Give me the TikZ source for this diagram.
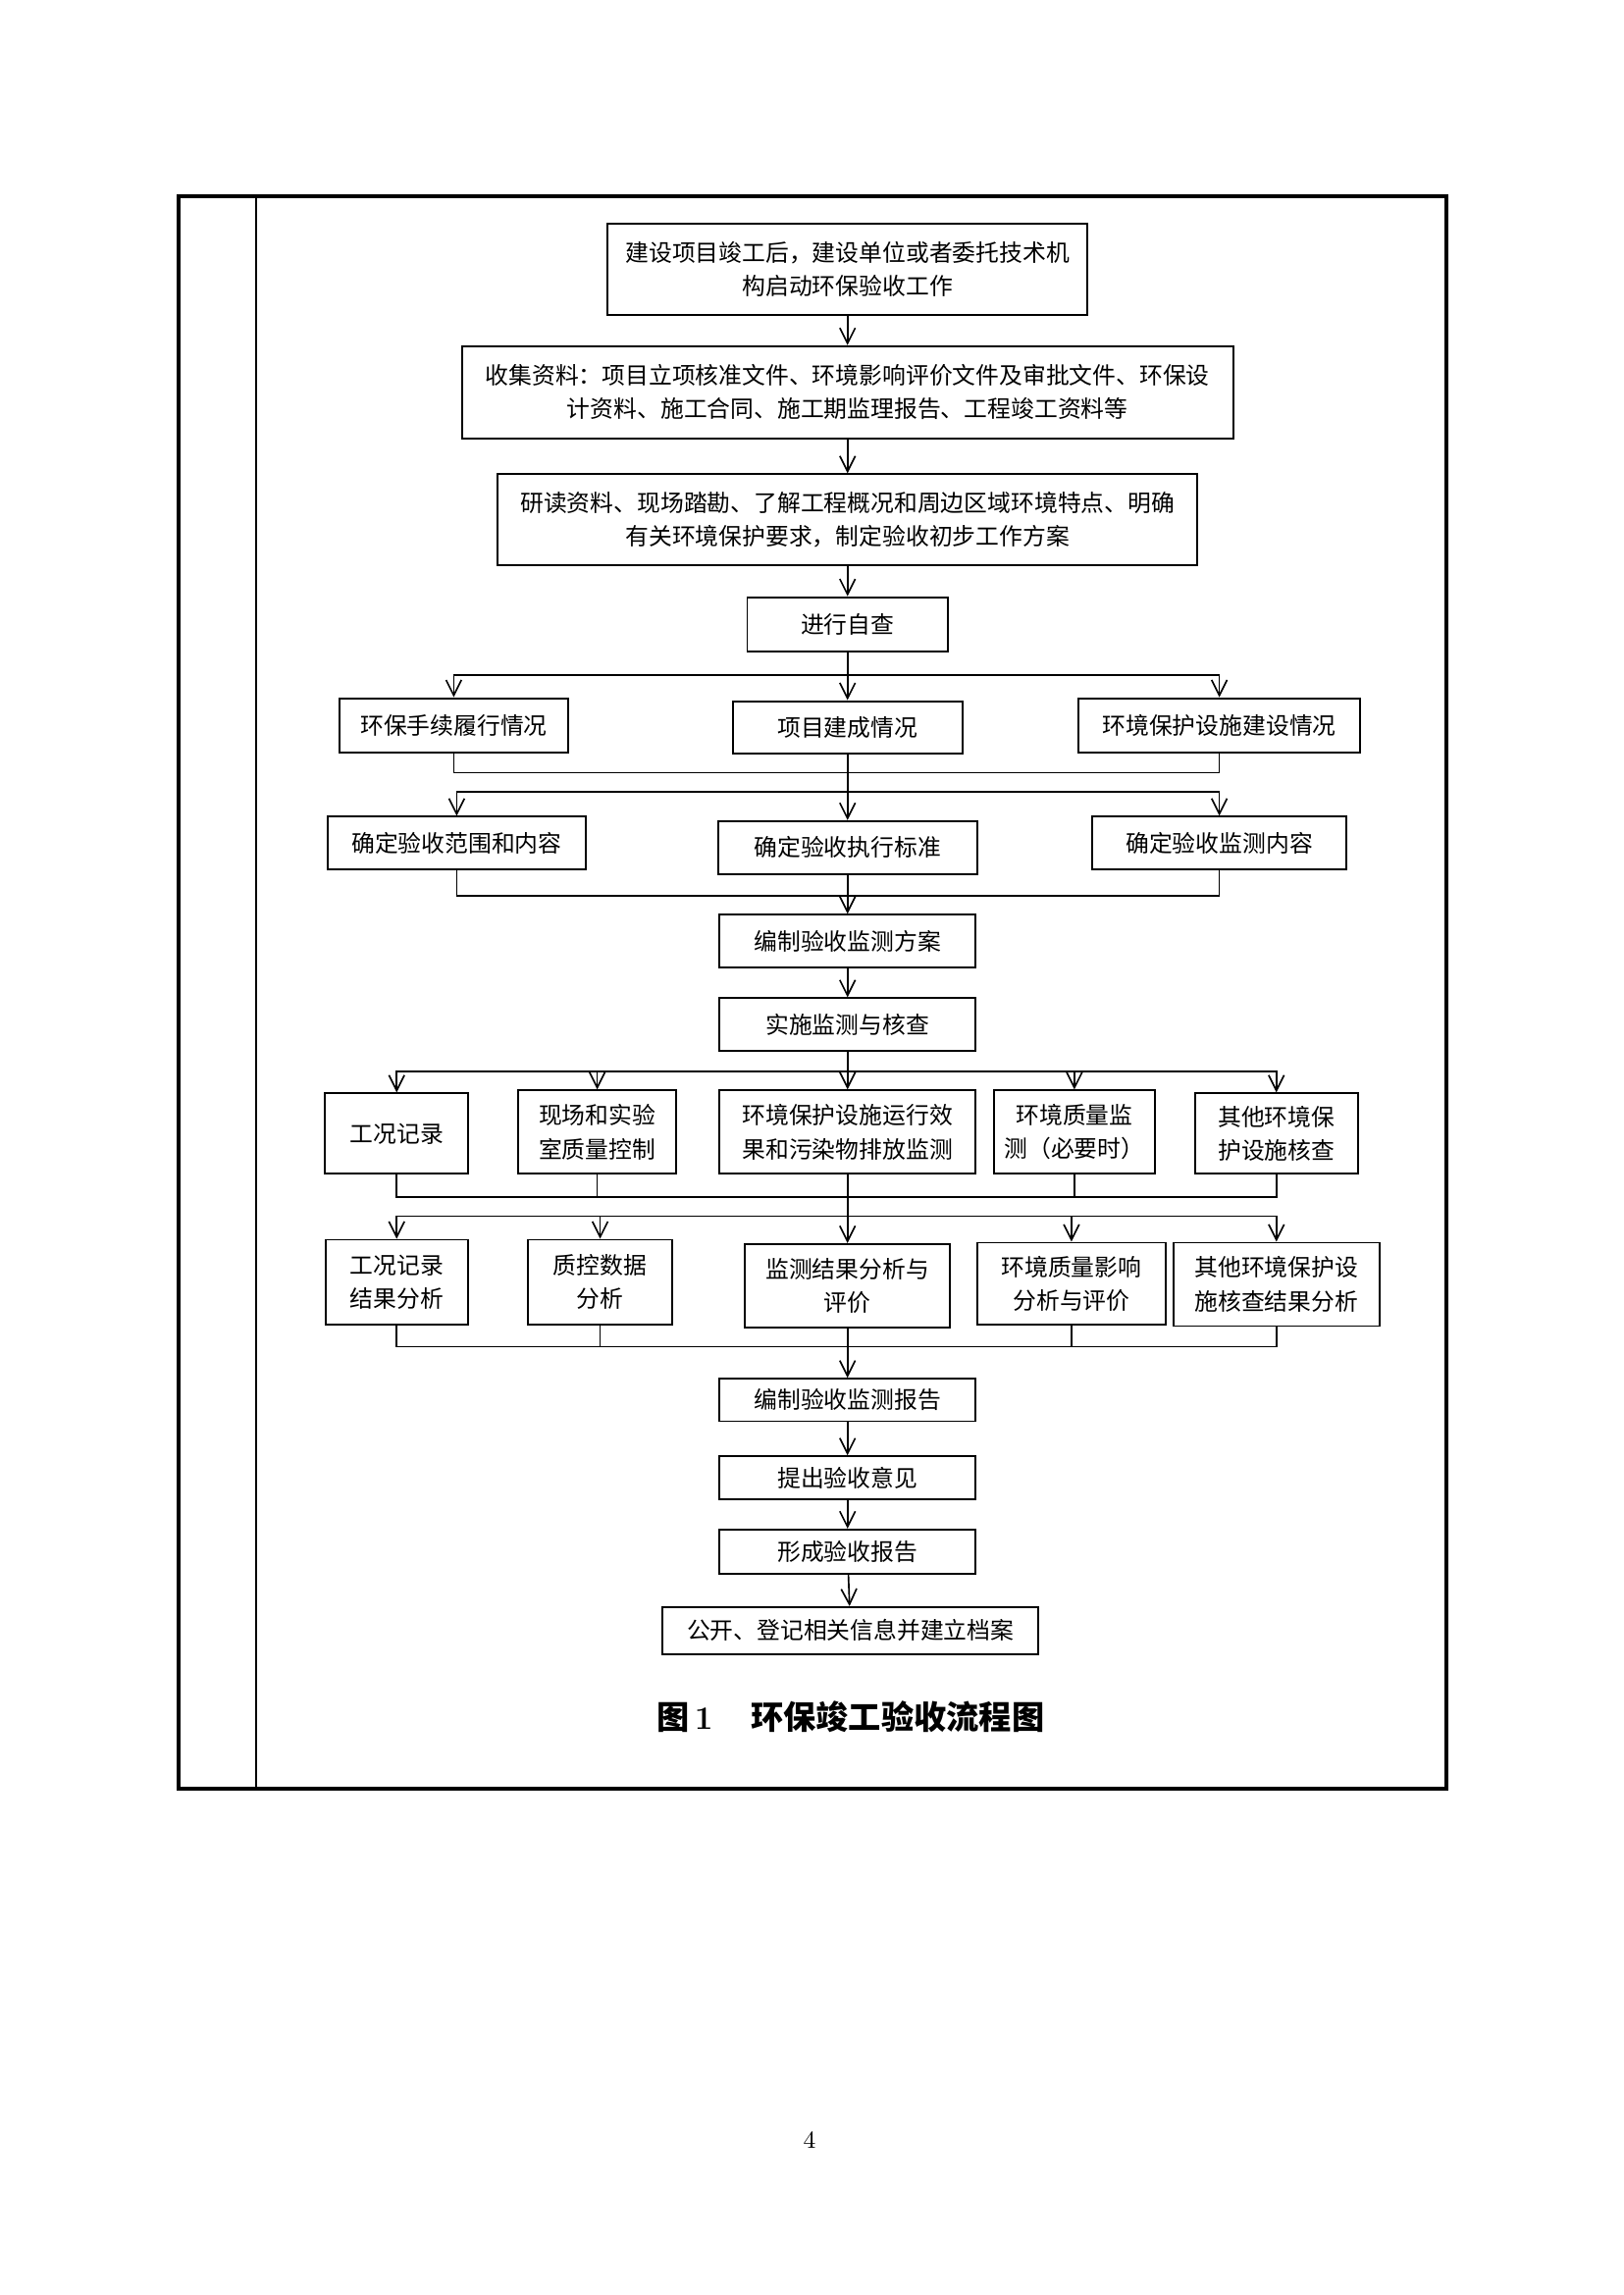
\documentclass[tikz,border=0pt]{standalone}
\usepackage{fontspec}
\newfontfamily\cjk{Noto Sans CJK SC}
\usetikzlibrary{arrows.meta}
\newlength\pxu
\setlength\pxu{0.018936cm}

\begin{document}
\begin{tikzpicture}[x=0.018936cm,y=-0.018936cm,
    box/.style 2 args={draw,line width=.7pt,align=center,inner sep=0pt,
      minimum width=#1\pxu,minimum height=#2\pxu,
      font=\cjk\fontsize{8.6}{12.4}\selectfont},
    arr/.style={-{Straight Barb[length=2mm,width=2mm]},line width=.6pt},
    lnk/.style={line width=.6pt}]
  \useasboundingbox (0,0) rectangle (1109,1568);
  \draw[line width=1.3pt] (122,134) rectangle (988,1222);
  \draw[line width=.5pt] (175,134) -- (175,1222);

  \node[box={328}{62}] (start) at (579,184) {建设项目竣工后，建设单位或者委托技术机\\构启动环保验收工作};
  \node[box={527}{63}] (collect) at (579,268) {收集资料：项目立项核准文件、环境影响评价文件及审批文件、环保设\\计资料、施工合同、施工期监理报告、工程竣工资料等};
  \node[box={478}{62}] (study) at (579,355) {研读资料、现场踏勘、了解工程概况和周边区域环境特点、明确\\有关环境保护要求，制定验收初步工作方案};
  \node[box={137}{37}] (check) at (579,426.5) {进行自查};

  \coordinate (fork1) at (579,461);
  \node[box={156}{37}] (procedure) at (310,495.5) {环保手续履行情况};
  \node[box={157}{36}] (built) at (579,497) {项目建成情况};
  \node[box={192}{37}] (facility) at (833,495.5) {环境保护设施建设情况};
  \coordinate (join1) at (579,528);

  \coordinate (fork2) at (579,541);
  \node[box={176}{36}] (scope) at (312,576) {确定验收范围和内容};
  \node[box={177}{36}] (standard) at (579,579) {确定验收执行标准};
  \node[box={174}{36}] (content) at (833,576) {确定验收监测内容};
  \coordinate (join2) at (579,612);

  \node[box={175}{36}] (plan) at (579,643) {编制验收监测方案};
  \node[box={175}{36}] (implement) at (579,700) {实施监测与核查};

  \coordinate (fork3) at (579,732);
  \node[box={98}{55}] (record) at (271,774.5) {工况记录};
  \node[box={108}{57}] (qc) at (408,773.5) {现场和实验\\室质量控制};
  \node[box={175}{57}] (emission) at (579,773.5) {环境保护设施运行效\\果和污染物排放监测};
  \node[box={110}{57}] (quality) at (734,773.5) {环境质量监\\测（必要时）};
  \node[box={111}{55}] (other) at (872,774.5) {其他环境保\\护设施核查};
  \coordinate (join3) at (579,818);

  \coordinate (fork4) at (579,831);
  \node[box={97}{58}] (recordres) at (271,876) {工况记录\\结果分析};
  \node[box={99}{58}] (qcdata) at (410,876) {质控数据\\分析};
  \node[box={140}{57}] (result) at (579,878.5) {监测结果分析与\\评价};
  \node[box={129}{56}] (impact) at (732,877) {环境质量影响\\分析与评价};
  \node[box={141}{57}] (otherres) at (872,877.5) {其他环境保护设\\施核查结果分析};
  \coordinate (join4) at (579,920);

  \node[box={175}{29}] (report) at (579,956.5) {编制验收监测报告};
  \node[box={175}{29}] (opinion) at (579,1009.5) {提出验收意见};
  \node[box={175}{30}] (form) at (579,1060) {形成验收报告};
  \node[box={257}{32}] (archive) at (581,1114) {公开、登记相关信息并建立档案};

  \node[font=\cjk\bfseries\fontsize{12}{14}\selectfont] (caption) at (581,1173) {图\,{\rmfamily\bfseries 1}\hspace{14pt}环保竣工验收流程图};
  \node[font=\fontsize{9}{9}\selectfont] (page) at (553,1462) {4};

  \draw[arr] (start) -- (collect);
  \draw[arr] (collect) -- (study);
  \draw[arr] (study) -- (check);
  \draw[arr] (check) -- (built);
  \draw[arr] (fork1) -| (procedure);
  \draw[arr] (fork1) -| (facility);
  \draw[lnk] (procedure) |- (join1) -| (facility);

  \draw[arr] (built) -- (standard);
  \draw[arr] (fork2) -| (scope);
  \draw[arr] (fork2) -| (content);
  \draw[lnk] (scope) |- (join2) -| (content);
  \draw[arr] (standard) -- (plan);
  \draw[arr] (plan) -- (implement);

  \draw[arr] (implement) -- (emission);
  \draw[arr] (fork3) -| (record);
  \draw[arr] (fork3) -| (qc);
  \draw[arr] (fork3) -| (quality);
  \draw[arr] (fork3) -| (other);
  \draw[lnk] (record) |- (join3) -| (other);
  \draw[lnk] (qc) -- (qc |- join3);
  \draw[lnk] (quality) -- (quality |- join3);

  \draw[arr] (emission) -- (result);
  \draw[arr] (fork4) -| (recordres);
  \draw[arr] (fork4) -| (qcdata);
  \draw[arr] (fork4) -| (impact);
  \draw[arr] (fork4) -| (otherres);
  \draw[lnk] (recordres) |- (join4) -| (otherres);
  \draw[lnk] (qcdata) -- (qcdata |- join4);
  \draw[lnk] (impact) -- (impact |- join4);

  \draw[arr] (result) -- (report);
  \draw[arr] (report) -- (opinion);
  \draw[arr] (opinion) -- (form);
  \draw[arr] (form) -- (archive);
\end{tikzpicture}
\end{document}
